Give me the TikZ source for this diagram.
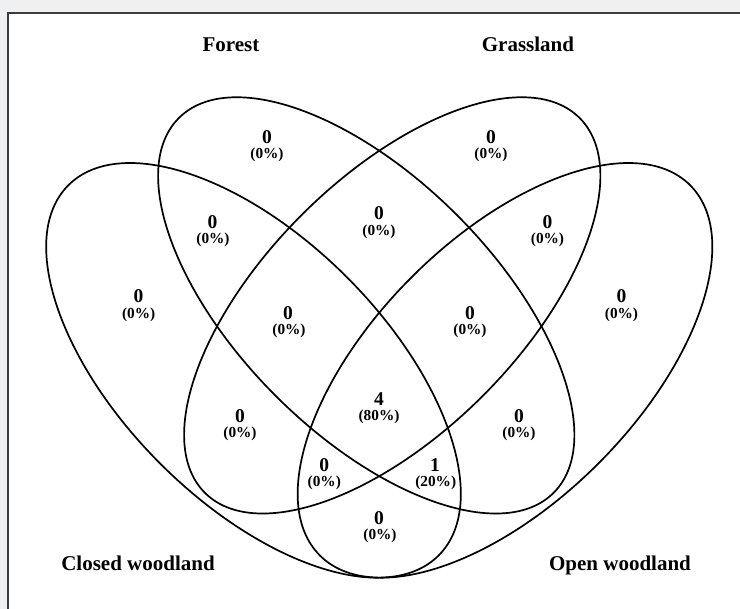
\documentclass[tikz,border=0pt]{standalone}
\usepackage{fontspec}
\setmainfont{Liberation Serif}
\definecolor{bgcol}{HTML}{EFF0F2}
\definecolor{framecol}{HTML}{3C3C3C}
\begin{document}
\begin{tikzpicture}[x=1pt,y=1pt,
  venn/.style={draw=black, line width=1.7pt},
  cat/.style={font=\fontsize{21}{21}\selectfont\bfseries, inner sep=0pt, anchor=base},
  num/.style={font=\fontsize{19.5}{19.5}\selectfont\bfseries, inner sep=0pt},
  pct/.style={font=\fontsize{15.3}{15.3}\selectfont\bfseries, inner sep=0pt}]
\useasboundingbox (0,0) rectangle (740,609);
\fill[bgcol] (0,0) rectangle (740,609);
\begin{scope}
\clip (0,0) rectangle (740,609);
\draw[fill=white, draw=framecol, line width=2pt] (8,596) rectangle (760,-20);
\end{scope}
% ellipses (y = 609 - pixel y)
\coordinate (cC) at (253.5,238.65);
\coordinate (cO) at (505,238.65);
\coordinate (cF) at (366.25,303.6);
\coordinate (cG) at (392.25,303.6);
\draw[venn, rotate around={-45:(cC)}] (cC) ellipse [x radius=261.8pt, y radius=131.9pt];
\draw[venn, rotate around={45:(cO)}] (cO) ellipse [x radius=261.8pt, y radius=131.9pt];
\draw[venn, rotate around={-45:(cF)}] (cF) ellipse [x radius=265pt, y radius=128pt];
\draw[venn, rotate around={45:(cG)}] (cG) ellipse [x radius=265pt, y radius=128pt];
% category labels
\node[cat] (lF) at (231,557) {Forest};
\node[cat] (lG) at (528,557) {Grassland};
\node[cat] (lC) at (138,38) {Closed woodland};
\node[cat] (lO) at (620,38) {Open woodland};
% region counts
\node[num] (n1) at (267,472) {0};   \node[pct] (p1) at (267,454) {(0\%)};
\node[num] (n2) at (491,472) {0};   \node[pct] (p2) at (491,454) {(0\%)};
\node[num] (n3) at (138.5,313) {0}; \node[pct] (p3) at (138.7,294) {(0\%)};
\node[num] (n4) at (621.5,313) {0}; \node[pct] (p4) at (621.5,294.5) {(0\%)};
\node[num] (n5) at (212.5,387.3) {0}; \node[pct] (p5) at (213,369) {(0\%)};
\node[num] (n6) at (547.5,387.3) {0}; \node[pct] (p6) at (547.5,369) {(0\%)};
\node[num] (n7) at (379,396) {0};   \node[pct] (p7) at (379,377) {(0\%)};
\node[num] (n8) at (288,296) {0};   \node[pct] (p8) at (289,278) {(0\%)};
\node[num] (n9) at (470,296) {0};   \node[pct] (p9) at (470,278) {(0\%)};
\node[num] (n10) at (240,193) {0};  \node[pct] (p10) at (240,174.7) {(0\%)};
\node[num] (n11) at (519,193) {0};  \node[pct] (p11) at (519,174.7) {(0\%)};
\node[num] (n12) at (379,210) {4}; \node[pct] (p12) at (379,192) {(80\%)};
\node[num] (n13) at (324.3,144) {0}; \node[pct] (p13) at (324.3,126.3) {(0\%)};
\node[num] (n14) at (435,144) {1};  \node[pct] (p14) at (435.7,126.3) {(20\%)};
\node[num] (n15) at (379,90.5) {0};   \node[pct] (p15) at (380,72.8) {(0\%)};
\end{tikzpicture}
\end{document}
